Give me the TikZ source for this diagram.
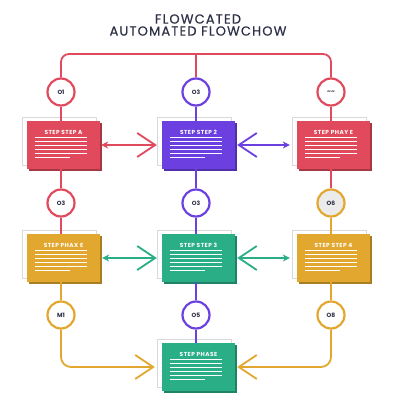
\documentclass[tikz,border=0pt]{standalone}
\usepackage{fontspec}
\setmainfont{Poppins}
\usetikzlibrary{arrows.meta}
\definecolor{flred}{HTML}{E04A5C}
\definecolor{flpurple}{HTML}{6B3FE0}
\definecolor{flteal}{HTML}{2AAE86}
\definecolor{flyellow}{HTML}{E2A72E}
\definecolor{flnavy}{HTML}{2D3047}
\tikzset{
  circ/.style={circle, draw=#1, line width=2.2pt, fill=white, minimum size=27pt,
    inner sep=0pt, text=flnavy, font=\bfseries\fontsize{6}{7}\selectfont},
  link/.style={draw=#1, line width=1.8pt},
  card/.style={fill=#1, minimum width=73pt, minimum height=48pt, inner sep=0pt},
  smalltip/.tip={Stealth[length=7pt, width=7pt]},
  opentip/.tip={Straight Barb[length=18pt, width=24pt, line width=1.8pt]},
}
% box with a paper sheet behind it
\newcommand{\stepcard}[4]{%
  \node[draw=black!15, fill=white, minimum width=74pt, minimum height=48pt,
    inner sep=0pt, xshift=-4pt, yshift=4pt] at (#2) {};
  \node[card=#3!75!black, xshift=1.5pt, yshift=-1.5pt] at (#2) {};
  \node[card=#3] (#1) at (#2) {};
  \node[text=white, font=\bfseries\fontsize{5.8}{6}\selectfont, anchor=north]
    at ([yshift=-6pt]#1.north) {\addfontfeatures{LetterSpace=8}#4};
  \foreach \k in {0,...,4}
    \draw[white, line width=1pt] ([xshift=8pt, yshift=-17pt-\k*4pt]#1.north west) -- ++(52pt,0);
  \draw[white, line width=1pt] ([xshift=8pt, yshift=-37pt]#1.north west) -- ++(35pt,0);
}
\begin{document}
\begin{tikzpicture}[x=1pt, y=-1pt]
\useasboundingbox (0,0) rectangle (400,400);
\node[text=flnavy, font=\fontsize{13}{15}\selectfont, align=center] (title) at (198,25)
  {\addfontfeatures{LetterSpace=9,FakeBold=0.6}FLOWCATED\\[-3pt]\addfontfeatures{LetterSpace=9,FakeBold=0.6}AUTOMATED FLOWCHOW};

% circles
\node[circ=flred] (c11) at (61,92) {O1};
\node[circ=flpurple] (c12) at (196,92) {O3};
\node[circ=flred] (c13) at (331,92) {\textasciitilde\textasciitilde};
\node[circ=flred] (c21) at (61,203) {O3};
\node[circ=flpurple] (c22) at (196,203) {O3};
\node[circ=flyellow, fill=black!8] (c23) at (331,203) {O6};
\node[circ=flyellow] (c31) at (61,315) {M1};
\node[circ=flpurple] (c32) at (196,315) {O5};
\node[circ=flyellow] (c33) at (331,315) {O8};

% boxes
\stepcard{b11}{63.5,145}{flred}{STEP STEP A}
\stepcard{b12}{198.5,145}{flpurple}{STEP STEP 2}
\stepcard{b13}{333.5,145}{flred}{STEP PHAY E}
\stepcard{b21}{63.5,258}{flyellow}{STEP PHAX E}
\stepcard{b22}{198.5,258}{flteal}{STEP STEP 3}
\stepcard{b23}{333.5,258}{flyellow}{STEP STEP 4}
\stepcard{b3}{198.5,367}{flteal}{STEP PHASE}

% top tree
\coordinate (hub) at (196,54);
\draw[link=flred, rounded corners=8pt] (c11.north) |- (hub) -| (c13.north);
\draw[link=flred] (hub) -- (c12.north);

% columns
\draw[link=flred] (c11.south) -- (c11.south |- b11.north);
\draw[link=flred] (c11 |- b11.south) -- (c21.north);
\draw[link=flred] (c21.south) -- (c21.south |- b21.north);
\draw[link=flyellow] (c21 |- b21.south) -- (c31.north);
\draw[link=flpurple] (c12.south) -- (c12.south |- b12.north);
\draw[link=flpurple] (c12 |- b12.south) -- (c22.north);
\draw[link=flpurple] (c22.south) -- (c22.south |- b22.north);
\draw[link=flpurple] (c22 |- b22.south) -- (c32.north);
\draw[link=flpurple] (c32.south) -- (c32.south |- b3.north);
\draw[link=flred] (c13.south) -- (c13.south |- b13.north);
\draw[link=flred] (c13 |- b13.south) -- (c23.north);
\draw[link=flyellow] (c23.south) -- (c23.south |- b23.north);
\draw[link=flyellow] (c23 |- b23.south) -- (c33.north);

% arrows between boxes
\draw[link=flred, {smalltip}-{opentip}] ([xshift=1pt]b11.east) -- ([xshift=-5pt]b12.west);
\draw[link=flpurple, {opentip}-{smalltip}] ([xshift=2pt]b12.east) -- ([xshift=-7pt]b13.west);
\draw[link=flteal, {smalltip}-{opentip}] ([xshift=2pt]b21.east) -- ([xshift=-5pt]b22.west);
\draw[link=flteal, {opentip}-{smalltip}] ([xshift=2pt]b22.east) -- ([xshift=-7pt]b23.west);
\draw[link=flyellow, rounded corners=10pt, -{opentip}] (c31.south) |- ([xshift=-7pt]b3.west);
\draw[link=flyellow, rounded corners=10pt, -{opentip}] (c33.south) |- ([xshift=2pt]b3.east);
\end{tikzpicture}
\end{document}
